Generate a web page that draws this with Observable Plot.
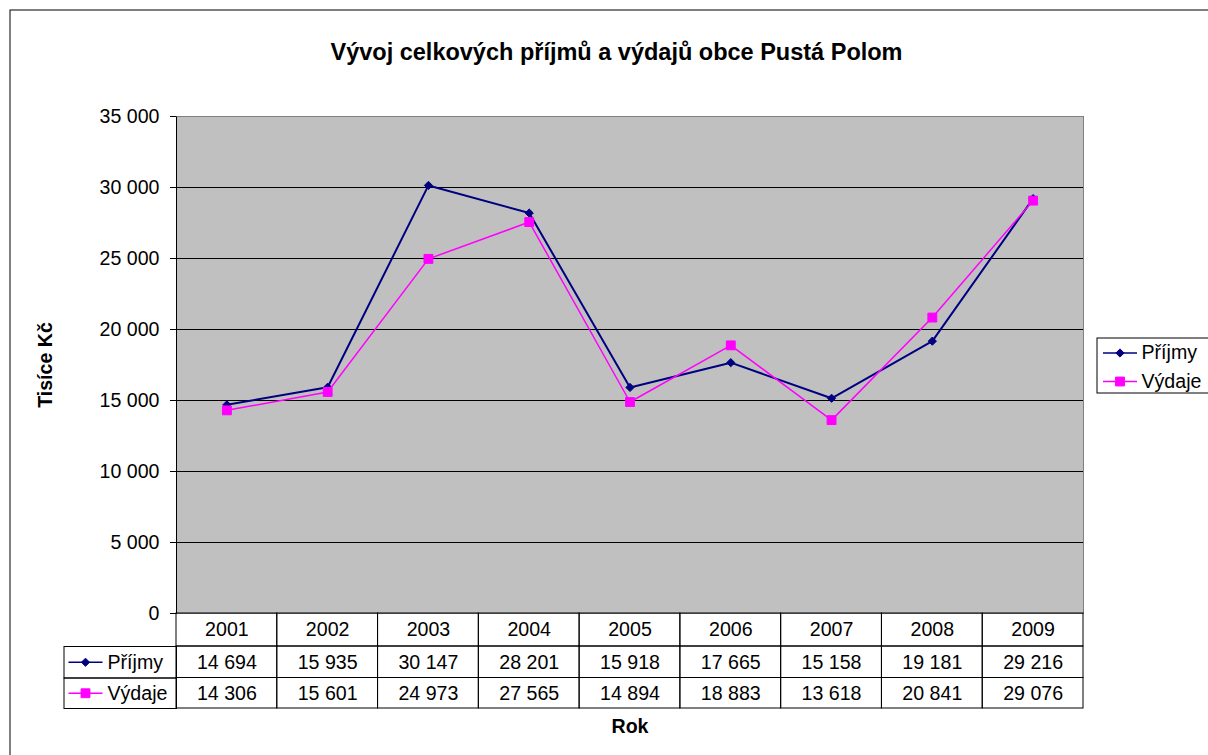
<!DOCTYPE html>
<html>
<head>
<meta charset="utf-8">
<script src="https://cdn.jsdelivr.net/npm/d3@7"></script>
<script src="https://cdn.jsdelivr.net/npm/@observablehq/plot@0.6"></script>
<style>
  html, body { margin: 0; padding: 0; background: #fff; overflow: hidden; }
</style>
</head>
<body>
<div id="chart"></div>
<script>
// ---- data ----
const years = ["2001", "2002", "2003", "2004", "2005", "2006", "2007", "2008", "2009"];
const prijmy = [14694, 15935, 30147, 28201, 15918, 17665, 15158, 19181, 29216];
const vydaje = [14306, 15601, 24973, 27565, 14894, 18883, 13618, 20841, 29076];
const seriesNames = ["Příjmy", "Výdaje"];
const yTicks = [0, 5000, 10000, 15000, 20000, 25000, 30000, 35000];
const titleText = "Vývoj celkových příjmů a výdajů obce Pustá Polom";
const yLabel = "Tisíce Kč";
const xLabel = "Rok";

// ---- layout ----
const W = 1208, H = 755;
const mL = 176, mR = 125, mT = 116, mB = 142;
const FW = W - mL - mR;   // frame width
const FH = H - mT - mB;   // frame height
const rowB = [0, 33, 64.5, 95]; // table row borders below the frame

const fmt = d3.formatLocale({decimal: ",", thousands: " ", grouping: [3], currency: ["", ""]}).format(",d");

const rows = years.map((y, i) => ({year: y, prijmy: prijmy[i], vydaje: vydaje[i]}));

const series = [
  {name: seriesNames[0], key: "prijmy", color: "#000080", symbol: "diamond2", r: 3.7, sw: 2},
  {name: seriesNames[1], key: "vydaje", color: "#FF00FF", symbol: "square", r: 5, sw: 1.5}
];

const hline = {draw(ctx, size) { const r = Math.sqrt(size / Math.PI); ctx.moveTo(-r, 0); ctx.lineTo(r, 0); }};

const marks = [];
// outer chart border
marks.push(Plot.frame({stroke: "black", strokeWidth: 1, insetLeft: 9.5 - mL, insetTop: 9.5 - mT, insetRight: -200, insetBottom: -200}));
// plot area
marks.push(Plot.frame({fill: "#C0C0C0", stroke: "#808080"}));
marks.push(Plot.ruleY(yTicks.slice(1, -1), {stroke: "black", strokeWidth: 1}));
// left axis line
marks.push(Plot.frame({fill: "black", stroke: "none", insetLeft: -0.5, insetRight: FW - 0.5}));

// data table cells
for (let k = 0; k < 3; k++) {
  marks.push(Plot.cell(rows, {x: "year", fill: "none", stroke: "black", inset: 0, insetTop: FH + rowB[k], insetBottom: -rowB[k + 1]}));
}
// key column cells
for (let k = 1; k < 3; k++) {
  marks.push(Plot.frame({stroke: "black", fill: "none", insetLeft: 63.5 - mL, insetRight: FW, insetTop: FH + rowB[k], insetBottom: -rowB[k + 1]}));
}
// year row text
marks.push(Plot.text(rows, {x: "year", text: "year", frameAnchor: "bottom", lineAnchor: "middle", dy: (rowB[0] + rowB[1]) / 2}));

series.forEach((s, k) => {
  const rowCenter = (rowB[k + 1] + rowB[k + 2]) / 2;
  // series line + markers
  marks.push(Plot.line(rows, {x: "year", y: s.key, stroke: s.color, strokeWidth: s.sw}));
  marks.push(Plot.dot(rows, {x: "year", y: s.key, symbol: s.symbol, r: s.r, fill: s.color, stroke: s.color, strokeWidth: 1}));
  // table values
  marks.push(Plot.text(rows, {x: "year", text: d => fmt(d[s.key]), frameAnchor: "bottom", lineAnchor: "middle", dy: rowCenter}));
  // table key glyph + name
  marks.push(Plot.dot([s.name], {frameAnchor: "bottom-left", dx: 85 - mL, dy: rowCenter, symbol: hline, r: 17, stroke: s.color, fill: "none", strokeWidth: 1.5}));
  marks.push(Plot.dot([s.name], {frameAnchor: "bottom-left", dx: 85 - mL, dy: rowCenter, symbol: s.symbol, r: s.r, fill: s.color, stroke: s.color, strokeWidth: 1}));
  marks.push(Plot.text([s.name], {frameAnchor: "bottom-left", dx: 107 - mL, dy: rowCenter, textAnchor: "start", lineAnchor: "middle"}));
  // legend entries
  const ly = [352.5 - (mT + FH / 2), 381 - (mT + FH / 2)][k];
  marks.push(Plot.dot([s.name], {frameAnchor: "right", dx: 1119.5 - (mL + FW), dy: ly, symbol: hline, r: 17, stroke: s.color, fill: "none", strokeWidth: 1.5}));
  marks.push(Plot.dot([s.name], {frameAnchor: "right", dx: 1119.5 - (mL + FW), dy: ly, symbol: s.symbol, r: s.r, fill: s.color, stroke: s.color, strokeWidth: 1}));
  marks.push(Plot.text([s.name], {frameAnchor: "right", dx: 1141 - (mL + FW), dy: ly, textAnchor: "start", lineAnchor: "middle"}));
});

// legend box
marks.push(Plot.frame({stroke: "black", fill: "none", insetLeft: 1096.5 - mL, insetRight: (mL + FW) - 1216, insetTop: 337.5 - mT, insetBottom: (mT + FH) - 392.5}));

// titles
marks.push(Plot.text([titleText], {frameAnchor: "top", lineAnchor: "middle", dy: 52 - mT, dx: 616 - (mL + FW / 2), fontWeight: "bold", fontSize: 23.5}));
marks.push(Plot.text([yLabel], {frameAnchor: "left", textAnchor: "middle", lineAnchor: "middle", dx: 45 - mL, rotate: -90, fontWeight: "bold"}));
marks.push(Plot.text([xLabel], {frameAnchor: "bottom", lineAnchor: "middle", dy: 726 - (mT + FH), fontWeight: "bold"}));

const chart = Plot.plot({
  width: W,
  height: H,
  marginLeft: mL,
  marginRight: mR,
  marginTop: mT,
  marginBottom: mB,
  style: {fontFamily: "'Liberation Sans', Arial, sans-serif", fontSize: "19.6px", background: "white", color: "black", overflow: "hidden"},
  x: {type: "band", domain: years, padding: 0, round: false, axis: null},
  y: {domain: [0, 35000], ticks: yTicks, tickFormat: fmt, tickSize: 6, tickPadding: 11, label: null},
  marks
});
document.getElementById("chart").appendChild(chart);
</script>
</body>
</html>
